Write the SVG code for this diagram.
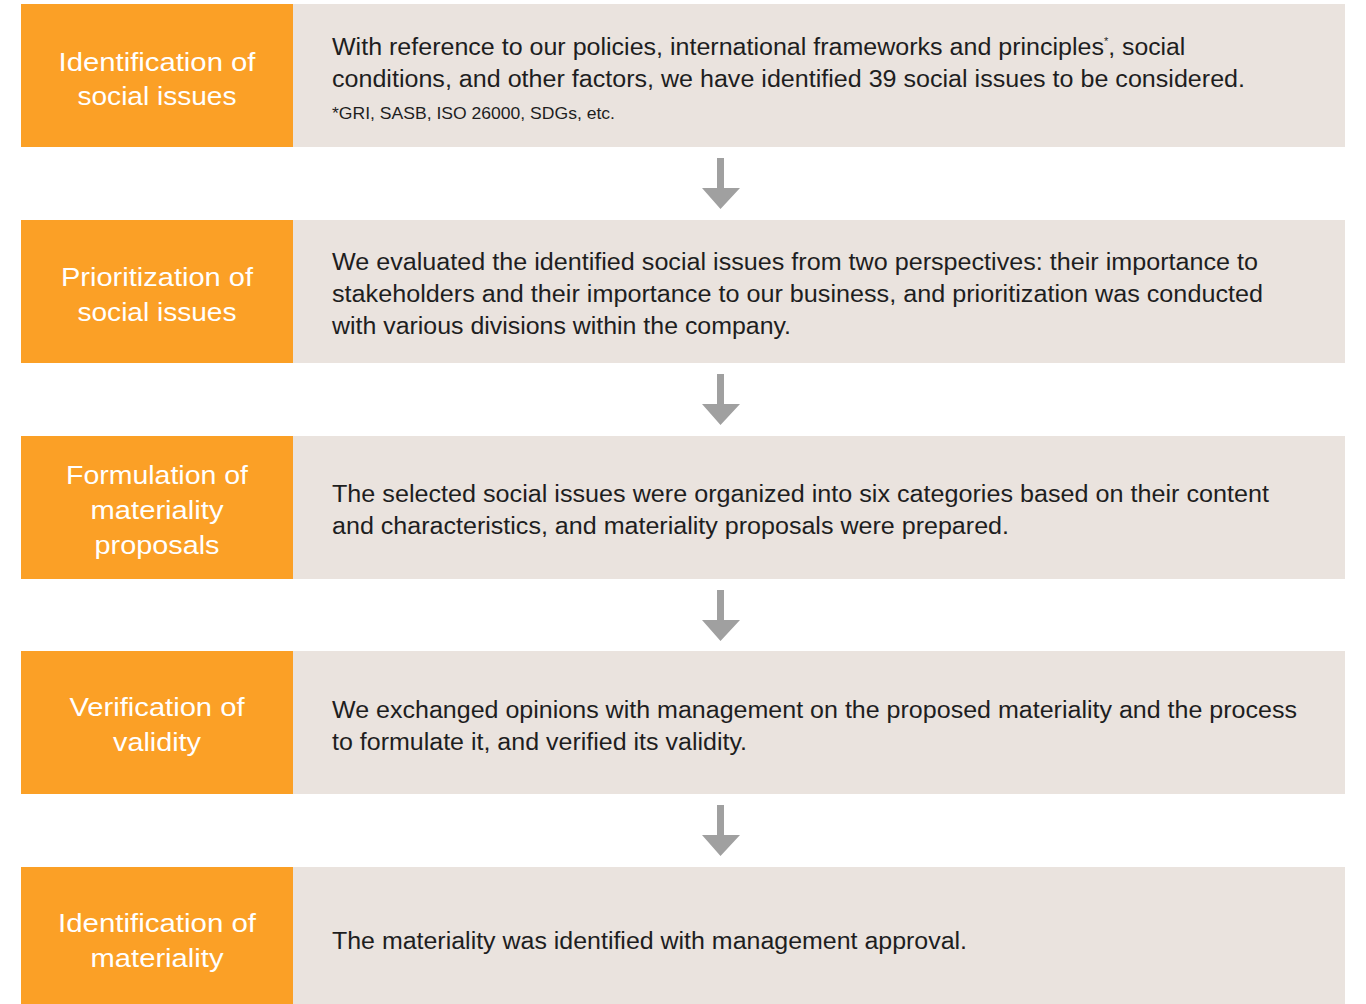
<svg xmlns="http://www.w3.org/2000/svg" width="1366" height="1004" viewBox="0 0 1366 1004">
<style>
.step{fill:#FBA026}
.desc{fill:#EAE3DE}
.lbl{font-family:"Liberation Sans",Arial,sans-serif;font-size:26px;fill:#FFFFFF;text-anchor:middle}
.txt{font-family:"Liberation Sans",Arial,sans-serif;font-size:23px;fill:#1E1E1E}
.note{font-family:"Liberation Sans",Arial,sans-serif;font-size:17px;fill:#1E1E1E}
.arr{fill:#A0A0A0}
</style>
<rect width="1366" height="1004" fill="#FFFFFF"/>
<g id="node1">
<rect class="step" x="21" y="4" width="272" height="143"/>
<rect class="desc" x="293" y="4" width="1052" height="143"/>
<text class="lbl" x="157" y="71" textLength="197" lengthAdjust="spacingAndGlyphs">Identification of</text>
<text class="lbl" x="157" y="105" textLength="159" lengthAdjust="spacingAndGlyphs">social issues</text>
<text class="txt" x="332" y="55"><tspan textLength="772" lengthAdjust="spacingAndGlyphs">With reference to our policies, international frameworks and principles</tspan><tspan font-size="11" dy="-10">*</tspan><tspan dy="10" textLength="77" lengthAdjust="spacingAndGlyphs">, social</tspan></text>
<text class="txt" x="332" y="87" textLength="913" lengthAdjust="spacingAndGlyphs">conditions, and other factors, we have identified 39 social issues to be considered.</text>
<text class="note" x="332" y="119" textLength="283" lengthAdjust="spacingAndGlyphs">*GRI, SASB, ISO 26000, SDGs, etc.</text>
</g>
<g id="node2">
<rect class="step" x="21" y="220" width="272" height="143"/>
<rect class="desc" x="293" y="220" width="1052" height="143"/>
<text class="lbl" x="157" y="286" textLength="192" lengthAdjust="spacingAndGlyphs">Prioritization of</text>
<text class="lbl" x="157" y="321" textLength="159" lengthAdjust="spacingAndGlyphs">social issues</text>
<text class="txt" x="332" y="270" textLength="926" lengthAdjust="spacingAndGlyphs">We evaluated the identified social issues from two perspectives: their importance to</text>
<text class="txt" x="332" y="302" textLength="931" lengthAdjust="spacingAndGlyphs">stakeholders and their importance to our business, and prioritization was conducted</text>
<text class="txt" x="332" y="334" textLength="459" lengthAdjust="spacingAndGlyphs">with various divisions within the company.</text>
</g>
<g id="node3">
<rect class="step" x="21" y="436" width="272" height="143"/>
<rect class="desc" x="293" y="436" width="1052" height="143"/>
<text class="lbl" x="157" y="484" textLength="182" lengthAdjust="spacingAndGlyphs">Formulation of</text>
<text class="lbl" x="157" y="519" textLength="133" lengthAdjust="spacingAndGlyphs">materiality</text>
<text class="lbl" x="157" y="554" textLength="125" lengthAdjust="spacingAndGlyphs">proposals</text>
<text class="txt" x="332" y="502" textLength="937" lengthAdjust="spacingAndGlyphs">The selected social issues were organized into six categories based on their content</text>
<text class="txt" x="332" y="534" textLength="677" lengthAdjust="spacingAndGlyphs">and characteristics, and materiality proposals were prepared.</text>
</g>
<g id="node4">
<rect class="step" x="21" y="651" width="272" height="143"/>
<rect class="desc" x="293" y="651" width="1052" height="143"/>
<text class="lbl" x="157" y="716" textLength="175" lengthAdjust="spacingAndGlyphs">Verification of</text>
<text class="lbl" x="157" y="751" textLength="88" lengthAdjust="spacingAndGlyphs">validity</text>
<text class="txt" x="332" y="718" textLength="965" lengthAdjust="spacingAndGlyphs">We exchanged opinions with management on the proposed materiality and the process</text>
<text class="txt" x="332" y="750" textLength="415" lengthAdjust="spacingAndGlyphs">to formulate it, and verified its validity.</text>
</g>
<g id="node5">
<rect class="step" x="21" y="867" width="272" height="137"/>
<rect class="desc" x="293" y="867" width="1052" height="137"/>
<text class="lbl" x="157" y="932" textLength="198" lengthAdjust="spacingAndGlyphs">Identification of</text>
<text class="lbl" x="157" y="967" textLength="133" lengthAdjust="spacingAndGlyphs">materiality</text>
<text class="txt" x="332" y="949" textLength="635" lengthAdjust="spacingAndGlyphs">The materiality was identified with management approval.</text>
</g>
<g id="connectors">
<path class="arr" d="M717 158 H724 V188 H740 L720.5 209 L702 188 H717 Z"/>
<path class="arr" d="M717 374 H724 V404 H740 L720.5 425 L702 404 H717 Z"/>
<path class="arr" d="M717 590 H724 V620 H740 L720.5 641 L702 620 H717 Z"/>
<path class="arr" d="M717 805 H724 V835 H740 L720.5 856 L702 835 H717 Z"/>
</g>
</svg>
